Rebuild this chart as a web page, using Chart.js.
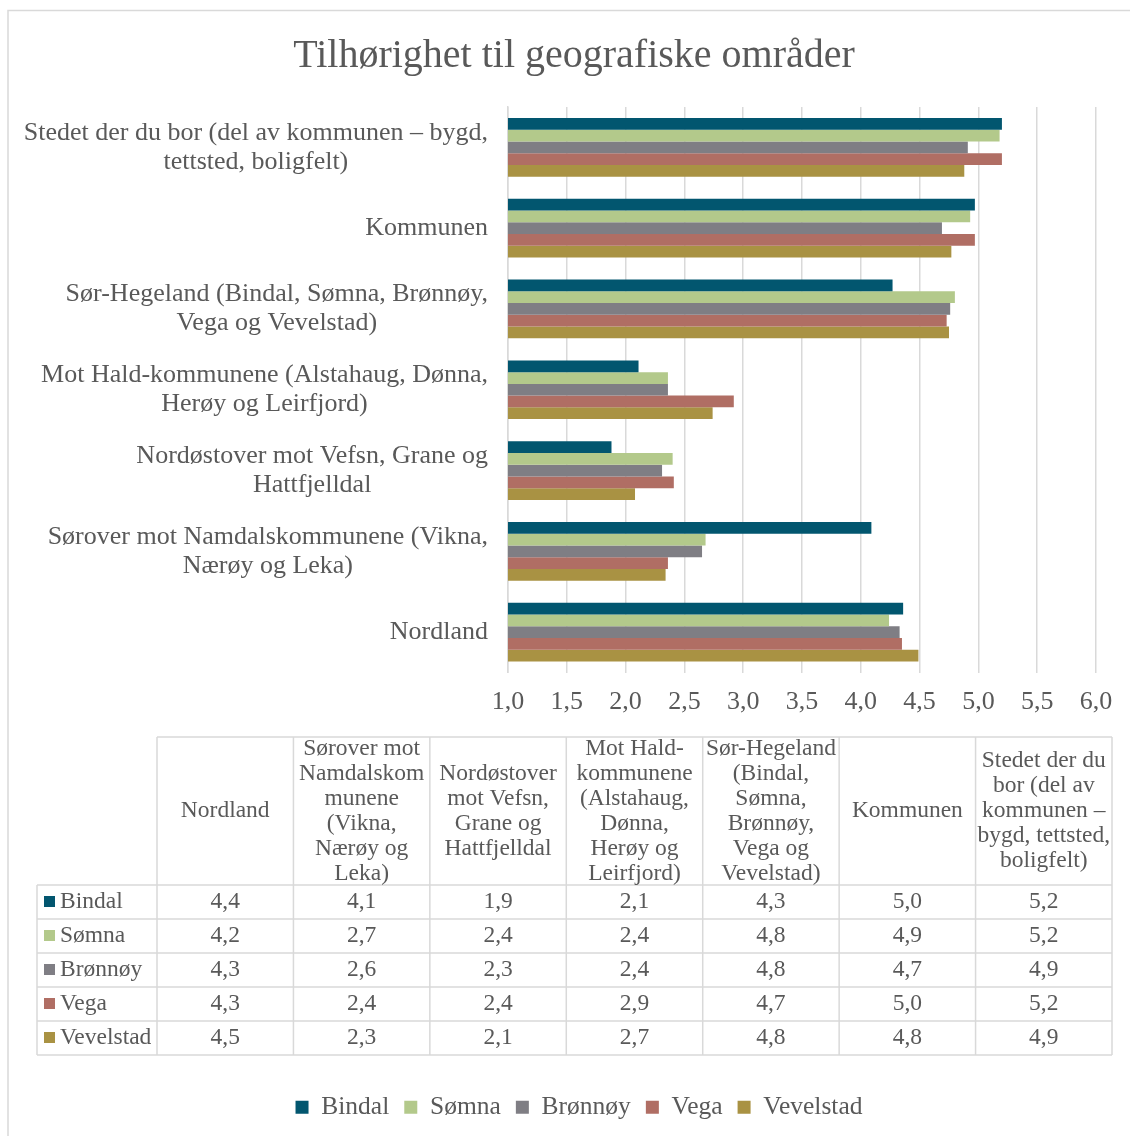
<!DOCTYPE html>
<html>
<head>
<meta charset="utf-8">
<script src="https://cdn.jsdelivr.net/npm/chart.js@4/dist/chart.umd.min.js"></script>
<style>
  html, body { margin: 0; padding: 0; background: #fff; }
  #wrap { width: 1130px; height: 1136px; position: relative; }
</style>
</head>
<body>
<div id="wrap"><canvas id="chart" width="1130" height="1136"></canvas></div>
<script>
// Categories in data-table order (Nordland first, drawn at the bottom of the chart)
const categories = [
  'Nordland',
  'Sørover mot Namdalskommunene (Vikna, Nærøy og Leka)',
  'Nordøstover mot Vefsn, Grane og Hattfjelldal',
  'Mot Hald-kommunene (Alstahaug, Dønna, Herøy og Leirfjord)',
  'Sør-Hegeland (Bindal, Sømna, Brønnøy, Vega og Vevelstad)',
  'Kommunen',
  'Stedet der du bor (del av kommunen – bygd, tettsted, boligfelt)'
];

// axis label line breaks
const axisLabelLines = [
  ['Nordland'],
  ['Sørover mot Namdalskommunene (Vikna,', 'Nærøy og Leka)'],
  ['Nordøstover mot Vefsn, Grane og', 'Hattfjelldal'],
  ['Mot Hald-kommunene (Alstahaug, Dønna,', 'Herøy og Leirfjord)'],
  ['Sør-Hegeland (Bindal, Sømna, Brønnøy,', 'Vega og Vevelstad)'],
  ['Kommunen'],
  ['Stedet der du bor (del av kommunen – bygd,', 'tettsted, boligfelt)']
];

// table header line breaks
const tableHeaderLines = [
  ['Nordland'],
  ['Sørover mot', 'Namdalskom', 'munene', '(Vikna,', 'Nærøy og', 'Leka)'],
  ['Nordøstover', 'mot Vefsn,', 'Grane og', 'Hattfjelldal'],
  ['Mot Hald-', 'kommunene', '(Alstahaug,', 'Dønna,', 'Herøy og', 'Leirfjord)'],
  ['Sør-Hegeland', '(Bindal,', 'Sømna,', 'Brønnøy,', 'Vega og', 'Vevelstad)'],
  ['Kommunen'],
  ['Stedet der du', 'bor (del av', 'kommunen –', 'bygd, tettsted,', 'boligfelt)']
];

const seriesNames = ['Bindal', 'Sømna', 'Brønnøy', 'Vega', 'Vevelstad'];
const seriesColors = ['#02566f', '#b3c98b', '#7f7e84', '#b06e64', '#a99243'];

const bindal    = [4.36, 4.09, 1.88, 2.11, 4.27, 4.97, 5.20];
const somna     = [4.24, 2.68, 2.40, 2.36, 4.80, 4.93, 5.18];
const bronnoy   = [4.33, 2.65, 2.31, 2.36, 4.76, 4.69, 4.91];
const vega      = [4.35, 2.36, 2.41, 2.92, 4.73, 4.97, 5.20];
const vevelstad = [4.49, 2.34, 2.08, 2.74, 4.75, 4.77, 4.88];
const seriesValues = [bindal, somna, bronnoy, vega, vevelstad];

const xTicks = [1, 1.5, 2, 2.5, 3, 3.5, 4, 4.5, 5, 5.5, 6];

const FONT = '"Liberation Serif", "DejaVu Serif", serif';
const TEXT = '#595959';
const GRID = '#d9d9d9';

function fmt(v) {
  return v.toFixed(1).replace('.', ',');
}

// frame around the chart object
const framePlugin = {
  id: 'frame',
  beforeDraw(chart) {
    const ctx = chart.ctx;
    ctx.save();
    ctx.strokeStyle = GRID;
    ctx.lineWidth = 1.5;
    ctx.beginPath();
    ctx.moveTo(8, 1136);
    ctx.lineTo(8, 10.5);
    ctx.lineTo(1130, 10.5);
    ctx.stroke();
    ctx.restore();
  }
};

// the original chart object is wider than the visible area, so title and
// legend are centred a bit to the right of the canvas centre
const shiftPlugin = {
  id: 'shiftBlocks',
  afterLayout(chart) {
    if (chart.titleBlock) { chart.titleBlock.left += 21; chart.titleBlock.right += 21; }
    if (chart.legend) { chart.legend.left += 26; chart.legend.right += 26; }
  }
};

// category labels: each label's lines centred, block right-aligned to the axis
const yLabelPlugin = {
  id: 'yLabels',
  afterDraw(chart) {
    const ctx = chart.ctx;
    const yScale = chart.scales.y;
    const right = yScale.right - 20;
    const lineH = 29;
    ctx.save();
    ctx.font = '26px ' + FONT;
    ctx.fillStyle = TEXT;
    ctx.textAlign = 'center';
    ctx.textBaseline = 'middle';
    axisLabelLines.forEach((lines, i) => {
      const yc = yScale.getPixelForTick(i);
      const w = Math.max(...lines.map(l => ctx.measureText(l).width));
      const xc = right - w / 2;
      const y0 = yc - (lines.length - 1) * lineH / 2;
      lines.forEach((l, j) => ctx.fillText(l, xc, y0 + j * lineH));
    });
    ctx.restore();
  }
};

// data table under the x axis
const tablePlugin = {
  id: 'dataTable',
  afterDraw(chart) {
    const ctx = chart.ctx;
    const left = 37, colStart = 157, right = 1112;
    const top = 737, headerBottom = 885, rowH = 34;
    const colW = (right - colStart) / categories.length;
    const bottom = headerBottom + rowH * seriesNames.length;

    ctx.save();
    ctx.strokeStyle = GRID;
    ctx.lineWidth = 1.5;
    ctx.beginPath();
    // horizontal lines
    ctx.moveTo(colStart, top); ctx.lineTo(right, top);
    for (let r = 0; r <= seriesNames.length; r++) {
      const y = headerBottom + r * rowH;
      ctx.moveTo(left, y); ctx.lineTo(right, y);
    }
    // vertical lines
    ctx.moveTo(left, headerBottom); ctx.lineTo(left, bottom);
    for (let c = 0; c <= categories.length; c++) {
      const x = colStart + c * colW;
      ctx.moveTo(x, top); ctx.lineTo(x, bottom);
    }
    ctx.stroke();

    ctx.fillStyle = TEXT;
    ctx.font = '23.5px ' + FONT;
    ctx.textAlign = 'center';
    ctx.textBaseline = 'middle';
    const headerMid = (top + headerBottom) / 2;
    const lh = 25;
    tableHeaderLines.forEach((lines, c) => {
      const xc = colStart + (c + 0.5) * colW;
      const y0 = headerMid - (lines.length - 1) * lh / 2;
      lines.forEach((l, j) => ctx.fillText(l, xc, y0 + j * lh));
    });

    seriesNames.forEach((name, r) => {
      const yc = headerBottom + (r + 0.5) * rowH;
      ctx.fillStyle = seriesColors[r];
      ctx.fillRect(44, yc - 6, 11, 11);
      ctx.fillStyle = TEXT;
      ctx.textAlign = 'left';
      ctx.fillText(name, 60, yc);
      ctx.textAlign = 'center';
      seriesValues[r].forEach((v, c) => {
        ctx.fillText(fmt(v), colStart + (c + 0.5) * colW, yc);
      });
    });
    ctx.restore();
  }
};

new Chart(document.getElementById('chart'), {
  type: 'bar',
  data: {
    labels: categories,
    datasets: seriesNames.map((name, i) => ({
      label: name,
      data: seriesValues[i],
      backgroundColor: seriesColors[i],
      borderWidth: 0,
      categoryPercentage: 0.727,
      barPercentage: 1.0
    }))
  },
  options: {
    indexAxis: 'y',
    responsive: false,
    animation: false,
    events: [],
    layout: { padding: { left: 10, right: 34, top: 10, bottom: 6 } },
    scales: {
      x: {
        min: 1,
        max: 6,
        afterBuildTicks(scale) {
          scale.ticks = xTicks.map(v => ({ value: v }));
        },
        afterFit(scale) {
          scale.height = 407;
        },
        grid: { color: GRID, lineWidth: 1.5, drawTicks: false },
        border: { display: false },
        ticks: {
          padding: 14,
          color: TEXT,
          font: { family: FONT, size: 26 },
          callback: v => fmt(v)
        }
      },
      y: {
        reverse: true,
        afterFit(scale) {
          scale.width = 498;
        },
        grid: { display: false, drawTicks: false },
        border: { display: true, color: GRID, width: 1.5 },
        ticks: { color: 'transparent', font: { family: FONT, size: 26 } }
      }
    },
    plugins: {
      title: {
        display: true,
        text: 'Tilhørighet til geografiske områder',
        color: TEXT,
        font: { family: FONT, size: 40, weight: 'normal' },
        padding: { top: 22, bottom: 27 }
      },
      legend: {
        position: 'bottom',
        labels: {
          color: TEXT,
          font: { family: FONT, size: 25.5 },
          boxWidth: 13,
          boxHeight: 13,
          padding: 15
        }
      },
      tooltip: { enabled: false }
    }
  },
  plugins: [framePlugin, shiftPlugin, yLabelPlugin, tablePlugin]
});
</script>
</body>
</html>
